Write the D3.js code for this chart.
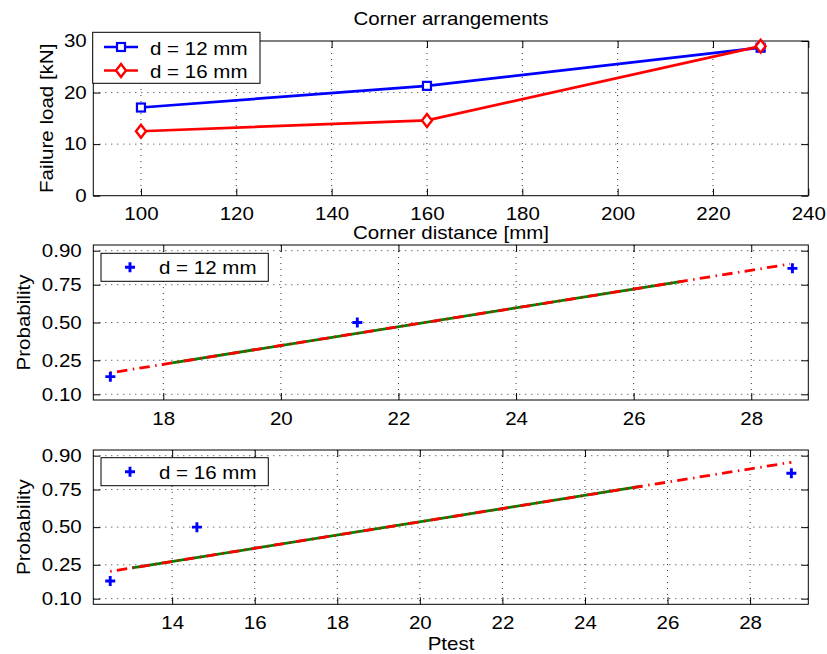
<!DOCTYPE html>
<html><head><meta charset="utf-8">
<script src="https://cdn.jsdelivr.net/npm/d3@7"></script>
<style>
body{margin:0;background:#fff}
svg{display:block}
text{font-family:"Liberation Sans",Arial,Helvetica,sans-serif;font-size:18px;fill:#000}
</style>
</head><body><svg id="c" width="827" height="654"></svg>
<script>
// ---------- data ----------
const cornerDist = [100, 160, 230];
const load12 = [17.1, 21.3, 28.7];
const load16 = [12.5, 14.6, 29.0];
const seriesNames = ["d = 12 mm", "d = 16 mm"];
const topXTicks = [100, 120, 140, 160, 180, 200, 220, 240];
const topYTicks = [0, 10, 20, 30];
const probTicks = [0.10, 0.25, 0.50, 0.75, 0.90];
const probTickLabels = ["0.10", "0.25", "0.50", "0.75", "0.90"];
const plotPos = [0.167, 0.5, 0.833];
const midXTicks = [18, 20, 22, 24, 26, 28];
const botXTicks = [14, 16, 18, 20, 22, 24, 26, 28];
// fitted (red dash-dot) and quartile reference (green) lines
const fit12X = [17.1, 28.66], fit12P = [0.1846, 0.8516];
const ref12X = [18.15, 26.85], ref12P = [0.2351, 0.7704];
const fit16X = [12.5, 29.0], fit16P = [0.2136, 0.8776];
const ref16X = [13.03, 25.38], ref16P = [0.2324, 0.7685];

// ---------- helpers ----------
function norminv(p) {
  const a=[-3.969683028665376e+01,2.209460984245205e+02,-2.759285104469687e+02,1.383577518672690e+02,-3.066479806614716e+01,2.506628277459239e+00];
  const b=[-5.447609879822406e+01,1.615858368580409e+02,-1.556989798598866e+02,6.680131188771972e+01,-1.328068155288572e+01];
  const c=[-7.784894002430293e-03,-3.223964580411365e-01,-2.400758277161838e+00,-2.549732539343734e+00,4.374664141464968e+00,2.938163982698783e+00];
  const d=[7.784695709041462e-03,3.224671290700398e-01,2.445134137142996e+00,3.754408661907416e+00];
  const pl=0.02425, ph=1-pl; let q,r;
  if (p<pl){q=Math.sqrt(-2*Math.log(p));return (((((c[0]*q+c[1])*q+c[2])*q+c[3])*q+c[4])*q+c[5])/((((d[0]*q+d[1])*q+d[2])*q+d[3])*q+1);}
  if (p<=ph){q=p-0.5;r=q*q;return (((((a[0]*r+a[1])*r+a[2])*r+a[3])*r+a[4])*r+a[5])*q/(((((b[0]*r+b[1])*r+b[2])*r+b[3])*r+b[4])*r+1);}
  q=Math.sqrt(-2*Math.log(1-p));return -(((((c[0]*q+c[1])*q+c[2])*q+c[3])*q+c[4])*q+c[5])/((((d[0]*q+d[1])*q+d[2])*q+d[3])*q+1);
}
const SX = 1.14;
const svg = d3.select("#c");
function label(x, y, str, anchor, rot) {
  return svg.append("text")
    .attr("transform", `translate(${x},${y}) rotate(${rot||0}) scale(${SX},1)`)
    .attr("text-anchor", anchor || "middle").text(str);
}
const L = 93.3, R = 808.3;

function frame(g, x, y, xTicks, yTicks, yFmt, yPad, xPad) {
  const [x0, x1] = x.range(), [y1, y0] = y.range();
  g.append("g").selectAll("line").data(xTicks.filter(t => Math.abs(x(t) - x0) > 1 && Math.abs(x(t) - x1) > 1)).join("line")
    .attr("x1", d => x(d)).attr("x2", d => x(d)).attr("y1", y0).attr("y2", y1)
    .attr("stroke", "#333").attr("stroke-width", 1).attr("stroke-dasharray", "1,5");
  g.append("g").selectAll("line").data(yTicks.map(yFmt.val).filter(v => Math.abs(y(v) - y0) > 1 && Math.abs(y(v) - y1) > 1)).join("line")
    .attr("y1", d => y(d)).attr("y2", d => y(d)).attr("x1", x0).attr("x2", x1)
    .attr("stroke", "#333").attr("stroke-width", 1).attr("stroke-dasharray", "1,5");
  g.append("g").attr("transform", `translate(0,${y1})`)
    .call(d3.axisBottom(x).tickValues(xTicks).tickSizeInner(-7).tickSizeOuter(0).tickPadding(xPad));
  g.append("g").attr("transform", `translate(0,${y0})`)
    .call(d3.axisTop(x).tickValues(xTicks).tickSizeInner(-7).tickSizeOuter(0).tickFormat(""));
  g.append("g").attr("transform", `translate(${x0},0)`)
    .call(d3.axisLeft(y).tickValues(yTicks.map(yFmt.val)).tickFormat((d, i) => yFmt.lab[i]).tickSizeInner(-7).tickSizeOuter(0).tickPadding(yPad / SX));
  g.append("g").attr("transform", `translate(${x1},0)`)
    .call(d3.axisRight(y).tickValues(yTicks.map(yFmt.val)).tickSizeInner(-7).tickSizeOuter(0).tickFormat(""));
  g.selectAll(".domain").remove();
  g.selectAll(".tick line").attr("stroke", "#000");
  g.selectAll(".tick text").attr("font-size", null).attr("font-family", null).attr("fill", "#000")
    .attr("transform", `scale(${SX},1)`);
  g.append("rect").attr("x", x0).attr("y", y0).attr("width", x1 - x0).attr("height", y1 - y0)
    .attr("fill", "none").attr("stroke", "#000").attr("stroke-width", 1);
}

// ---------- top panel ----------
{
  const g = svg.append("g");
  const x = d3.scaleLinear().domain([90, 240]).range([L, R]);
  const y = d3.scaleLinear().domain([0, 30]).range([195.7, 41]);
  frame(g, x, y, topXTicks, topYTicks, {val: v => v, lab: topYTicks.map(String)}, 6.6, 11.8);
  const line = d3.line().x((d, i) => x(cornerDist[i])).y(d => y(d));
  g.append("path").attr("d", line(load12)).attr("fill", "none").attr("stroke", "#0000ff").attr("stroke-width", 2.7);
  g.append("path").attr("d", line(load16)).attr("fill", "none").attr("stroke", "#ff0000").attr("stroke-width", 2.7);
  g.selectAll(".sq").data(load12).join("rect").attr("class", "sq")
    .attr("x", (d, i) => x(cornerDist[i]) - 4).attr("y", d => y(d) - 4).attr("width", 8).attr("height", 8)
    .attr("fill", "#fff").attr("stroke", "#0000ff").attr("stroke-width", 2.2);
  const dia = (cx, cy) => `M${cx},${cy - 6.5}L${cx + 5},${cy}L${cx},${cy + 6.5}L${cx - 5},${cy}Z`;
  g.selectAll(".di").data(load16).join("path").attr("class", "di")
    .attr("d", (d, i) => dia(x(cornerDist[i]), y(d)))
    .attr("fill", "#fff").attr("stroke", "#ff0000").attr("stroke-width", 2.4);
  g.append("rect").attr("x", 92.7).attr("y", 32.3).attr("width", 167.3).attr("height", 51)
    .attr("fill", "#fff").attr("stroke", "#000").attr("stroke-width", 1);
  const ly = [47, 70.5];
  g.append("line").attr("x1", 104).attr("x2", 138).attr("y1", ly[0]).attr("y2", ly[0]).attr("stroke", "#0000ff").attr("stroke-width", 2.7);
  g.append("rect").attr("x", 117).attr("y", ly[0] - 4).attr("width", 8).attr("height", 8).attr("fill", "#fff").attr("stroke", "#0000ff").attr("stroke-width", 2.2);
  g.append("line").attr("x1", 104).attr("x2", 138).attr("y1", ly[1]).attr("y2", ly[1]).attr("stroke", "#ff0000").attr("stroke-width", 2.7);
  g.append("path").attr("d", dia(121, ly[1])).attr("fill", "#fff").attr("stroke", "#ff0000").attr("stroke-width", 2.4);
  label(150, ly[0] + 7.5, seriesNames[0], "start");
  label(150, ly[1] + 7.5, seriesNames[1], "start");
  label(451, 24.5, "Corner arrangements");
  label(451, 239, "Corner distance [mm]");
  label(53, 118.3, "Failure load [kN]", "middle", -90);
}

// ---------- probability panels ----------
function probPanel(y0, y1, xDom, xTicks, data, fitX, fitP, refX, refP, name, legY) {
  const g = svg.append("g");
  const x = d3.scaleLinear().domain(xDom).range([L, R]);
  const zy = d3.scaleLinear().domain([-1.383, 1.383]).range([y1, y0]);
  const y = p => zy(norminv(p));
  frame(g, x, zy, xTicks, probTicks, {val: p => norminv(p), lab: probTickLabels}, 11.6, 12.3);
  const ln = d3.line().x(d => x(d[0])).y(d => y(d[1]));
  g.append("path").attr("d", ln([[refX[0], refP[0]], [refX[1], refP[1]]]))
    .attr("fill", "none").attr("stroke", "#008000").attr("stroke-width", 2.8);
  g.append("path").attr("d", ln([[fitX[0], fitP[0]], [fitX[1], fitP[1]]]))
    .attr("fill", "none").attr("stroke", "#ff0000").attr("stroke-width", 2.8)
    .attr("stroke-dasharray", "1.5,5.2,10.5,5.5");
  const plus = (cx, cy) => `M${cx - 5},${cy}H${cx + 5}M${cx},${cy - 5}V${cy + 5}`;
  g.selectAll(".pl").data(data).join("path").attr("class", "pl")
    .attr("d", (d, i) => plus(x(d), y(plotPos[i])))
    .attr("fill", "none").attr("stroke", "#0000ff").attr("stroke-width", 2.9);
  g.append("rect").attr("x", 101).attr("y", legY - 14).attr("width", 167.3).attr("height", 28)
    .attr("fill", "#fff").attr("stroke", "#000").attr("stroke-width", 1);
  g.append("path").attr("d", plus(130, legY)).attr("stroke", "#0000ff").attr("stroke-width", 2.9);
  label(159, legY + 7, name, "start");
  label(29.5, (y0 + y1) / 2, "Probability", "middle", -90);
}
probPanel(245, 400, [16.81, 28.97], midXTicks, load12, fit12X, fit12P, ref12X, ref12P, seriesNames[0], 267.3);
probPanel(450, 604.3, [12.09, 29.41], botXTicks, load16, fit16X, fit16P, ref16X, ref16P, seriesNames[1], 471.7);
label(451, 650, "Ptest");
</script>
</body></html>
